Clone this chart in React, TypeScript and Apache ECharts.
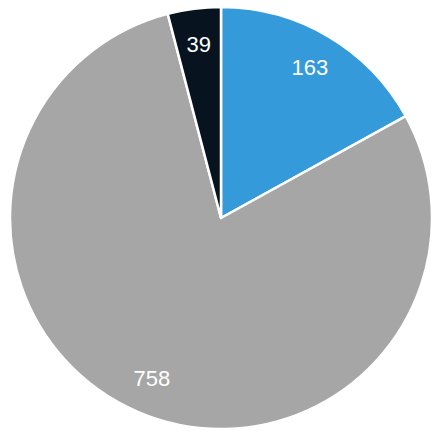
import React, { useEffect, useRef } from "react";
import * as echarts from "echarts";

const categories = ["A", "B", "C"];
const values = [163, 758, 39];
const colors = ["#349AD9", "#A6A6A6", "#07141F"];

export default function App() {
  const ref = useRef<HTMLDivElement>(null);
  useEffect(() => {
    document.body.style.margin = "0";
    const chart = echarts.init(ref.current!, undefined, { renderer: "svg" });
    const data = categories.map((c, i) => ({
      name: c,
      value: values[i],
      itemStyle: { color: colors[i] },
    }));
    chart.setOption({
      animation: false,
      series: [
        {
          type: "pie",
          center: [221, 218],
          radius: [0, 211],
          startAngle: 90,
          clockwise: true,
          data,
          label: { show: false },
          labelLine: { show: false },
          itemStyle: { borderColor: "#ffffff", borderWidth: 2.5 },
          silent: true,
        },
        {
          type: "pie",
          center: [221, 218],
          radius: [133, 211],
          startAngle: 90,
          clockwise: true,
          data: data.map((d) => ({ ...d, itemStyle: { color: "transparent" } })),
          itemStyle: { borderWidth: 0 },
          label: {
            show: true,
            position: "inside",
            formatter: "{c}",
            color: "#ffffff",
            fontSize: 22,
            fontFamily: "Liberation Sans, Arial, sans-serif",
          },
          labelLine: { show: false },
          silent: true,
        },
      ],
    });
    return () => chart.dispose();
  }, []);
  return <div ref={ref} style={{ width: 436, height: 433 }} />;
}
